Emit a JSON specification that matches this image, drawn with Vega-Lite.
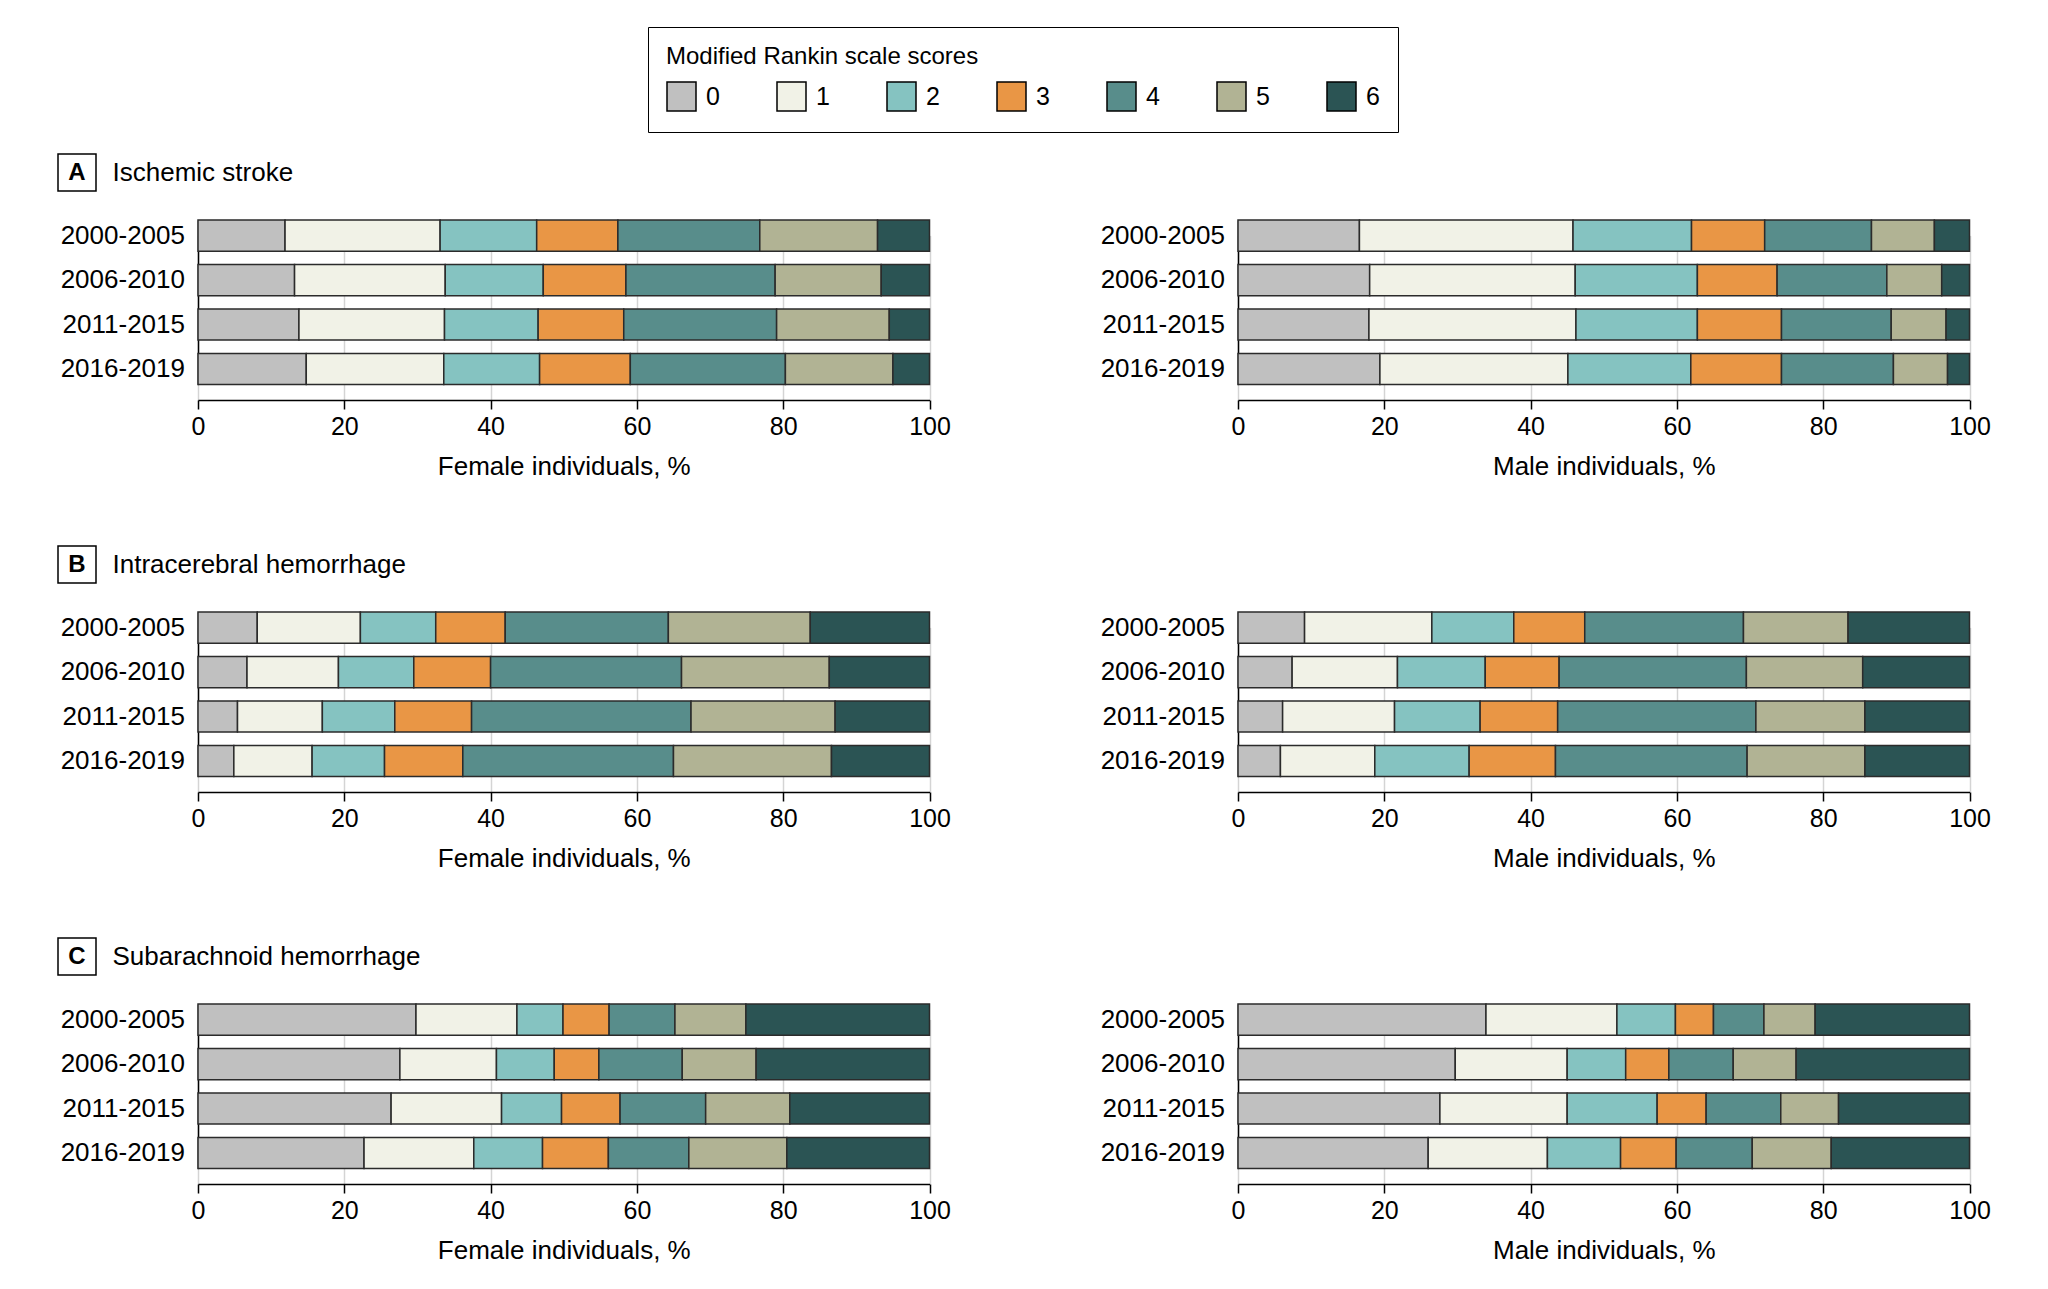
{
  "$schema": "https://vega.github.io/schema/vega-lite/v6.json",
  "autosize": {"type": "pad"},
  "padding": {"left": 57, "top": 26, "right": 10, "bottom": 10},
  "background": "white",
  "data": {"values": [
    {"panel":"A","sex":"Female","period":"2000-2005","mrs":0,"pct":11.9},{"panel":"A","sex":"Female","period":"2000-2005","mrs":1,"pct":21.2},{"panel":"A","sex":"Female","period":"2000-2005","mrs":2,"pct":13.2},{"panel":"A","sex":"Female","period":"2000-2005","mrs":3,"pct":11.1},{"panel":"A","sex":"Female","period":"2000-2005","mrs":4,"pct":19.4},{"panel":"A","sex":"Female","period":"2000-2005","mrs":5,"pct":16.1},{"panel":"A","sex":"Female","period":"2000-2005","mrs":6,"pct":7.1},
    {"panel":"A","sex":"Female","period":"2006-2010","mrs":0,"pct":13.2},{"panel":"A","sex":"Female","period":"2006-2010","mrs":1,"pct":20.6},{"panel":"A","sex":"Female","period":"2006-2010","mrs":2,"pct":13.4},{"panel":"A","sex":"Female","period":"2006-2010","mrs":3,"pct":11.3},{"panel":"A","sex":"Female","period":"2006-2010","mrs":4,"pct":20.4},{"panel":"A","sex":"Female","period":"2006-2010","mrs":5,"pct":14.5},{"panel":"A","sex":"Female","period":"2006-2010","mrs":6,"pct":6.6},
    {"panel":"A","sex":"Female","period":"2011-2015","mrs":0,"pct":13.8},{"panel":"A","sex":"Female","period":"2011-2015","mrs":1,"pct":19.9},{"panel":"A","sex":"Female","period":"2011-2015","mrs":2,"pct":12.8},{"panel":"A","sex":"Female","period":"2011-2015","mrs":3,"pct":11.7},{"panel":"A","sex":"Female","period":"2011-2015","mrs":4,"pct":20.9},{"panel":"A","sex":"Female","period":"2011-2015","mrs":5,"pct":15.4},{"panel":"A","sex":"Female","period":"2011-2015","mrs":6,"pct":5.5},
    {"panel":"A","sex":"Female","period":"2016-2019","mrs":0,"pct":14.8},{"panel":"A","sex":"Female","period":"2016-2019","mrs":1,"pct":18.8},{"panel":"A","sex":"Female","period":"2016-2019","mrs":2,"pct":13.1},{"panel":"A","sex":"Female","period":"2016-2019","mrs":3,"pct":12.4},{"panel":"A","sex":"Female","period":"2016-2019","mrs":4,"pct":21.2},{"panel":"A","sex":"Female","period":"2016-2019","mrs":5,"pct":14.7},{"panel":"A","sex":"Female","period":"2016-2019","mrs":6,"pct":5.0},
    {"panel":"A","sex":"Male","period":"2000-2005","mrs":0,"pct":16.6},{"panel":"A","sex":"Male","period":"2000-2005","mrs":1,"pct":29.2},{"panel":"A","sex":"Male","period":"2000-2005","mrs":2,"pct":16.2},{"panel":"A","sex":"Male","period":"2000-2005","mrs":3,"pct":10.0},{"panel":"A","sex":"Male","period":"2000-2005","mrs":4,"pct":14.6},{"panel":"A","sex":"Male","period":"2000-2005","mrs":5,"pct":8.6},{"panel":"A","sex":"Male","period":"2000-2005","mrs":6,"pct":4.8},
    {"panel":"A","sex":"Male","period":"2006-2010","mrs":0,"pct":18.0},{"panel":"A","sex":"Male","period":"2006-2010","mrs":1,"pct":28.1},{"panel":"A","sex":"Male","period":"2006-2010","mrs":2,"pct":16.7},{"panel":"A","sex":"Male","period":"2006-2010","mrs":3,"pct":10.9},{"panel":"A","sex":"Male","period":"2006-2010","mrs":4,"pct":15.0},{"panel":"A","sex":"Male","period":"2006-2010","mrs":5,"pct":7.5},{"panel":"A","sex":"Male","period":"2006-2010","mrs":6,"pct":3.8},
    {"panel":"A","sex":"Male","period":"2011-2015","mrs":0,"pct":17.9},{"panel":"A","sex":"Male","period":"2011-2015","mrs":1,"pct":28.3},{"panel":"A","sex":"Male","period":"2011-2015","mrs":2,"pct":16.6},{"panel":"A","sex":"Male","period":"2011-2015","mrs":3,"pct":11.5},{"panel":"A","sex":"Male","period":"2011-2015","mrs":4,"pct":15.0},{"panel":"A","sex":"Male","period":"2011-2015","mrs":5,"pct":7.5},{"panel":"A","sex":"Male","period":"2011-2015","mrs":6,"pct":3.2},
    {"panel":"A","sex":"Male","period":"2016-2019","mrs":0,"pct":19.4},{"panel":"A","sex":"Male","period":"2016-2019","mrs":1,"pct":25.7},{"panel":"A","sex":"Male","period":"2016-2019","mrs":2,"pct":16.8},{"panel":"A","sex":"Male","period":"2016-2019","mrs":3,"pct":12.4},{"panel":"A","sex":"Male","period":"2016-2019","mrs":4,"pct":15.3},{"panel":"A","sex":"Male","period":"2016-2019","mrs":5,"pct":7.4},{"panel":"A","sex":"Male","period":"2016-2019","mrs":6,"pct":3.0},
    {"panel":"B","sex":"Female","period":"2000-2005","mrs":0,"pct":8.1},{"panel":"B","sex":"Female","period":"2000-2005","mrs":1,"pct":14.1},{"panel":"B","sex":"Female","period":"2000-2005","mrs":2,"pct":10.3},{"panel":"B","sex":"Female","period":"2000-2005","mrs":3,"pct":9.5},{"panel":"B","sex":"Female","period":"2000-2005","mrs":4,"pct":22.3},{"panel":"B","sex":"Female","period":"2000-2005","mrs":5,"pct":19.4},{"panel":"B","sex":"Female","period":"2000-2005","mrs":6,"pct":16.3},
    {"panel":"B","sex":"Female","period":"2006-2010","mrs":0,"pct":6.7},{"panel":"B","sex":"Female","period":"2006-2010","mrs":1,"pct":12.5},{"panel":"B","sex":"Female","period":"2006-2010","mrs":2,"pct":10.3},{"panel":"B","sex":"Female","period":"2006-2010","mrs":3,"pct":10.5},{"panel":"B","sex":"Female","period":"2006-2010","mrs":4,"pct":26.1},{"panel":"B","sex":"Female","period":"2006-2010","mrs":5,"pct":20.2},{"panel":"B","sex":"Female","period":"2006-2010","mrs":6,"pct":13.7},
    {"panel":"B","sex":"Female","period":"2011-2015","mrs":0,"pct":5.4},{"panel":"B","sex":"Female","period":"2011-2015","mrs":1,"pct":11.6},{"panel":"B","sex":"Female","period":"2011-2015","mrs":2,"pct":9.9},{"panel":"B","sex":"Female","period":"2011-2015","mrs":3,"pct":10.5},{"panel":"B","sex":"Female","period":"2011-2015","mrs":4,"pct":30.0},{"panel":"B","sex":"Female","period":"2011-2015","mrs":5,"pct":19.7},{"panel":"B","sex":"Female","period":"2011-2015","mrs":6,"pct":12.9},
    {"panel":"B","sex":"Female","period":"2016-2019","mrs":0,"pct":4.9},{"panel":"B","sex":"Female","period":"2016-2019","mrs":1,"pct":10.7},{"panel":"B","sex":"Female","period":"2016-2019","mrs":2,"pct":9.9},{"panel":"B","sex":"Female","period":"2016-2019","mrs":3,"pct":10.7},{"panel":"B","sex":"Female","period":"2016-2019","mrs":4,"pct":28.8},{"panel":"B","sex":"Female","period":"2016-2019","mrs":5,"pct":21.6},{"panel":"B","sex":"Female","period":"2016-2019","mrs":6,"pct":13.4},
    {"panel":"B","sex":"Male","period":"2000-2005","mrs":0,"pct":9.1},{"panel":"B","sex":"Male","period":"2000-2005","mrs":1,"pct":17.4},{"panel":"B","sex":"Male","period":"2000-2005","mrs":2,"pct":11.2},{"panel":"B","sex":"Male","period":"2000-2005","mrs":3,"pct":9.7},{"panel":"B","sex":"Male","period":"2000-2005","mrs":4,"pct":21.7},{"panel":"B","sex":"Male","period":"2000-2005","mrs":5,"pct":14.3},{"panel":"B","sex":"Male","period":"2000-2005","mrs":6,"pct":16.6},
    {"panel":"B","sex":"Male","period":"2006-2010","mrs":0,"pct":7.4},{"panel":"B","sex":"Male","period":"2006-2010","mrs":1,"pct":14.4},{"panel":"B","sex":"Male","period":"2006-2010","mrs":2,"pct":12.0},{"panel":"B","sex":"Male","period":"2006-2010","mrs":3,"pct":10.1},{"panel":"B","sex":"Male","period":"2006-2010","mrs":4,"pct":25.6},{"panel":"B","sex":"Male","period":"2006-2010","mrs":5,"pct":15.9},{"panel":"B","sex":"Male","period":"2006-2010","mrs":6,"pct":14.6},
    {"panel":"B","sex":"Male","period":"2011-2015","mrs":0,"pct":6.1},{"panel":"B","sex":"Male","period":"2011-2015","mrs":1,"pct":15.3},{"panel":"B","sex":"Male","period":"2011-2015","mrs":2,"pct":11.7},{"panel":"B","sex":"Male","period":"2011-2015","mrs":3,"pct":10.6},{"panel":"B","sex":"Male","period":"2011-2015","mrs":4,"pct":27.1},{"panel":"B","sex":"Male","period":"2011-2015","mrs":5,"pct":14.9},{"panel":"B","sex":"Male","period":"2011-2015","mrs":6,"pct":14.3},
    {"panel":"B","sex":"Male","period":"2016-2019","mrs":0,"pct":5.8},{"panel":"B","sex":"Male","period":"2016-2019","mrs":1,"pct":12.9},{"panel":"B","sex":"Male","period":"2016-2019","mrs":2,"pct":12.9},{"panel":"B","sex":"Male","period":"2016-2019","mrs":3,"pct":11.8},{"panel":"B","sex":"Male","period":"2016-2019","mrs":4,"pct":26.2},{"panel":"B","sex":"Male","period":"2016-2019","mrs":5,"pct":16.1},{"panel":"B","sex":"Male","period":"2016-2019","mrs":6,"pct":14.3},
    {"panel":"C","sex":"Female","period":"2000-2005","mrs":0,"pct":29.8},{"panel":"C","sex":"Female","period":"2000-2005","mrs":1,"pct":13.8},{"panel":"C","sex":"Female","period":"2000-2005","mrs":2,"pct":6.3},{"panel":"C","sex":"Female","period":"2000-2005","mrs":3,"pct":6.3},{"panel":"C","sex":"Female","period":"2000-2005","mrs":4,"pct":9.0},{"panel":"C","sex":"Female","period":"2000-2005","mrs":5,"pct":9.7},{"panel":"C","sex":"Female","period":"2000-2005","mrs":6,"pct":25.1},
    {"panel":"C","sex":"Female","period":"2006-2010","mrs":0,"pct":27.6},{"panel":"C","sex":"Female","period":"2006-2010","mrs":1,"pct":13.2},{"panel":"C","sex":"Female","period":"2006-2010","mrs":2,"pct":7.9},{"panel":"C","sex":"Female","period":"2006-2010","mrs":3,"pct":6.1},{"panel":"C","sex":"Female","period":"2006-2010","mrs":4,"pct":11.4},{"panel":"C","sex":"Female","period":"2006-2010","mrs":5,"pct":10.1},{"panel":"C","sex":"Female","period":"2006-2010","mrs":6,"pct":23.7},
    {"panel":"C","sex":"Female","period":"2011-2015","mrs":0,"pct":26.4},{"panel":"C","sex":"Female","period":"2011-2015","mrs":1,"pct":15.1},{"panel":"C","sex":"Female","period":"2011-2015","mrs":2,"pct":8.2},{"panel":"C","sex":"Female","period":"2011-2015","mrs":3,"pct":8.0},{"panel":"C","sex":"Female","period":"2011-2015","mrs":4,"pct":11.7},{"panel":"C","sex":"Female","period":"2011-2015","mrs":5,"pct":11.5},{"panel":"C","sex":"Female","period":"2011-2015","mrs":6,"pct":19.1},
    {"panel":"C","sex":"Female","period":"2016-2019","mrs":0,"pct":22.7},{"panel":"C","sex":"Female","period":"2016-2019","mrs":1,"pct":15.0},{"panel":"C","sex":"Female","period":"2016-2019","mrs":2,"pct":9.4},{"panel":"C","sex":"Female","period":"2016-2019","mrs":3,"pct":9.0},{"panel":"C","sex":"Female","period":"2016-2019","mrs":4,"pct":11.0},{"panel":"C","sex":"Female","period":"2016-2019","mrs":5,"pct":13.4},{"panel":"C","sex":"Female","period":"2016-2019","mrs":6,"pct":19.5},
    {"panel":"C","sex":"Male","period":"2000-2005","mrs":0,"pct":33.9},{"panel":"C","sex":"Male","period":"2000-2005","mrs":1,"pct":17.9},{"panel":"C","sex":"Male","period":"2000-2005","mrs":2,"pct":8.0},{"panel":"C","sex":"Male","period":"2000-2005","mrs":3,"pct":5.2},{"panel":"C","sex":"Male","period":"2000-2005","mrs":4,"pct":6.9},{"panel":"C","sex":"Male","period":"2000-2005","mrs":5,"pct":7.0},{"panel":"C","sex":"Male","period":"2000-2005","mrs":6,"pct":21.1},
    {"panel":"C","sex":"Male","period":"2006-2010","mrs":0,"pct":29.7},{"panel":"C","sex":"Male","period":"2006-2010","mrs":1,"pct":15.3},{"panel":"C","sex":"Male","period":"2006-2010","mrs":2,"pct":8.0},{"panel":"C","sex":"Male","period":"2006-2010","mrs":3,"pct":5.9},{"panel":"C","sex":"Male","period":"2006-2010","mrs":4,"pct":8.8},{"panel":"C","sex":"Male","period":"2006-2010","mrs":5,"pct":8.6},{"panel":"C","sex":"Male","period":"2006-2010","mrs":6,"pct":23.7},
    {"panel":"C","sex":"Male","period":"2011-2015","mrs":0,"pct":27.6},{"panel":"C","sex":"Male","period":"2011-2015","mrs":1,"pct":17.4},{"panel":"C","sex":"Male","period":"2011-2015","mrs":2,"pct":12.3},{"panel":"C","sex":"Male","period":"2011-2015","mrs":3,"pct":6.7},{"panel":"C","sex":"Male","period":"2011-2015","mrs":4,"pct":10.2},{"panel":"C","sex":"Male","period":"2011-2015","mrs":5,"pct":7.9},{"panel":"C","sex":"Male","period":"2011-2015","mrs":6,"pct":17.9},
    {"panel":"C","sex":"Male","period":"2016-2019","mrs":0,"pct":26.0},{"panel":"C","sex":"Male","period":"2016-2019","mrs":1,"pct":16.3},{"panel":"C","sex":"Male","period":"2016-2019","mrs":2,"pct":10.0},{"panel":"C","sex":"Male","period":"2016-2019","mrs":3,"pct":7.6},{"panel":"C","sex":"Male","period":"2016-2019","mrs":4,"pct":10.4},{"panel":"C","sex":"Male","period":"2016-2019","mrs":5,"pct":10.8},{"panel":"C","sex":"Male","period":"2016-2019","mrs":6,"pct":18.9}
  ]},
  "spacing": 66,
  "vconcat": [
    {"spacing": 27, "vconcat": [
      {"spacing": 15, "hconcat": [
        {"width": 38, "height": 37, "view": {"stroke": "black", "strokeWidth": 1.5}, "data": {"values": [{"letter": "A"}]}, "mark": {"type": "text", "fontSize": 24, "fontWeight": "bold", "baseline": "middle"}, "encoding": {"text": {"field": "letter"}}},
        {"width": 1, "height": 37, "data": {"values": [{"name": "Ischemic stroke"}]}, "mark": {"type": "text", "fontSize": 26, "align": "left", "baseline": "middle"}, "encoding": {"text": {"field": "name"}}}
      ]},
      {"spacing": 147, "hconcat": [
        {"spacing": 6, "hconcat": [
          {"width": 127, "height": 180, "transform": [{"filter": "datum.panel === 'A' && datum.sex === 'Female' && datum.mrs === 0"}], "mark": {"type": "text", "align": "right", "baseline": "middle", "fontSize": 26},
           "encoding": {"y": {"field": "period", "type": "nominal", "axis": null, "scale": {"type": "band", "range": [0, 164.6], "paddingInner": 0.3, "paddingOuter": 0}}, "x": {"value": "width"}, "text": {"field": "period"}}},
          {"width": 731.5, "height": 180, "transform": [{"filter": "datum.panel === 'A' && datum.sex === 'Female'"}], "mark": "bar",
           "encoding": {"y": {"field": "period", "type": "nominal", "title": null, "axis": {"labels": false}, "scale": {"range": [0, 164.6], "paddingInner": 0.3, "paddingOuter": 0}},
             "x": {"field": "pct", "type": "quantitative", "stack": "zero", "scale": {"domain": [0, 100], "nice": false}, "axis": {"values": [0, 20, 40, 60, 80, 100], "title": "Female individuals, %"}},
             "color": {"field": "mrs", "type": "nominal", "title": "Modified Rankin scale scores", "scale": {"domain": [0, 1, 2, 3, 4, 5, 6], "range": ["#c0c0c0", "#f1f2e7", "#85c3c1", "#e99645", "#588d8b", "#b1b394", "#2b5454"]}},
             "order": {"field": "mrs", "type": "quantitative"}}}
        ]},
        {"spacing": 6, "hconcat": [
          {"width": 127, "height": 180, "transform": [{"filter": "datum.panel === 'A' && datum.sex === 'Male' && datum.mrs === 0"}], "mark": {"type": "text", "align": "right", "baseline": "middle", "fontSize": 26},
           "encoding": {"y": {"field": "period", "type": "nominal", "axis": null, "scale": {"type": "band", "range": [0, 164.6], "paddingInner": 0.3, "paddingOuter": 0}}, "x": {"value": "width"}, "text": {"field": "period"}}},
          {"width": 731.5, "height": 180, "transform": [{"filter": "datum.panel === 'A' && datum.sex === 'Male'"}], "mark": "bar",
           "encoding": {"y": {"field": "period", "type": "nominal", "title": null, "axis": {"labels": false}, "scale": {"range": [0, 164.6], "paddingInner": 0.3, "paddingOuter": 0}},
             "x": {"field": "pct", "type": "quantitative", "stack": "zero", "scale": {"domain": [0, 100], "nice": false}, "axis": {"values": [0, 20, 40, 60, 80, 100], "title": "Male individuals, %"}},
             "color": {"field": "mrs", "type": "nominal", "title": "Modified Rankin scale scores", "scale": {"domain": [0, 1, 2, 3, 4, 5, 6], "range": ["#c0c0c0", "#f1f2e7", "#85c3c1", "#e99645", "#588d8b", "#b1b394", "#2b5454"]}},
             "order": {"field": "mrs", "type": "quantitative"}}}
        ]}
      ]}
    ]},
    {"spacing": 27, "vconcat": [
      {"spacing": 15, "hconcat": [
        {"width": 38, "height": 37, "view": {"stroke": "black", "strokeWidth": 1.5}, "data": {"values": [{"letter": "B"}]}, "mark": {"type": "text", "fontSize": 24, "fontWeight": "bold", "baseline": "middle"}, "encoding": {"text": {"field": "letter"}}},
        {"width": 1, "height": 37, "data": {"values": [{"name": "Intracerebral hemorrhage"}]}, "mark": {"type": "text", "fontSize": 26, "align": "left", "baseline": "middle"}, "encoding": {"text": {"field": "name"}}}
      ]},
      {"spacing": 147, "hconcat": [
        {"spacing": 6, "hconcat": [
          {"width": 127, "height": 180, "transform": [{"filter": "datum.panel === 'B' && datum.sex === 'Female' && datum.mrs === 0"}], "mark": {"type": "text", "align": "right", "baseline": "middle", "fontSize": 26},
           "encoding": {"y": {"field": "period", "type": "nominal", "axis": null, "scale": {"type": "band", "range": [0, 164.6], "paddingInner": 0.3, "paddingOuter": 0}}, "x": {"value": "width"}, "text": {"field": "period"}}},
          {"width": 731.5, "height": 180, "transform": [{"filter": "datum.panel === 'B' && datum.sex === 'Female'"}], "mark": "bar",
           "encoding": {"y": {"field": "period", "type": "nominal", "title": null, "axis": {"labels": false}, "scale": {"range": [0, 164.6], "paddingInner": 0.3, "paddingOuter": 0}},
             "x": {"field": "pct", "type": "quantitative", "stack": "zero", "scale": {"domain": [0, 100], "nice": false}, "axis": {"values": [0, 20, 40, 60, 80, 100], "title": "Female individuals, %"}},
             "color": {"field": "mrs", "type": "nominal", "title": "Modified Rankin scale scores", "scale": {"domain": [0, 1, 2, 3, 4, 5, 6], "range": ["#c0c0c0", "#f1f2e7", "#85c3c1", "#e99645", "#588d8b", "#b1b394", "#2b5454"]}},
             "order": {"field": "mrs", "type": "quantitative"}}}
        ]},
        {"spacing": 6, "hconcat": [
          {"width": 127, "height": 180, "transform": [{"filter": "datum.panel === 'B' && datum.sex === 'Male' && datum.mrs === 0"}], "mark": {"type": "text", "align": "right", "baseline": "middle", "fontSize": 26},
           "encoding": {"y": {"field": "period", "type": "nominal", "axis": null, "scale": {"type": "band", "range": [0, 164.6], "paddingInner": 0.3, "paddingOuter": 0}}, "x": {"value": "width"}, "text": {"field": "period"}}},
          {"width": 731.5, "height": 180, "transform": [{"filter": "datum.panel === 'B' && datum.sex === 'Male'"}], "mark": "bar",
           "encoding": {"y": {"field": "period", "type": "nominal", "title": null, "axis": {"labels": false}, "scale": {"range": [0, 164.6], "paddingInner": 0.3, "paddingOuter": 0}},
             "x": {"field": "pct", "type": "quantitative", "stack": "zero", "scale": {"domain": [0, 100], "nice": false}, "axis": {"values": [0, 20, 40, 60, 80, 100], "title": "Male individuals, %"}},
             "color": {"field": "mrs", "type": "nominal", "title": "Modified Rankin scale scores", "scale": {"domain": [0, 1, 2, 3, 4, 5, 6], "range": ["#c0c0c0", "#f1f2e7", "#85c3c1", "#e99645", "#588d8b", "#b1b394", "#2b5454"]}},
             "order": {"field": "mrs", "type": "quantitative"}}}
        ]}
      ]}
    ]},
    {"spacing": 27, "vconcat": [
      {"spacing": 15, "hconcat": [
        {"width": 38, "height": 37, "view": {"stroke": "black", "strokeWidth": 1.5}, "data": {"values": [{"letter": "C"}]}, "mark": {"type": "text", "fontSize": 24, "fontWeight": "bold", "baseline": "middle"}, "encoding": {"text": {"field": "letter"}}},
        {"width": 1, "height": 37, "data": {"values": [{"name": "Subarachnoid hemorrhage"}]}, "mark": {"type": "text", "fontSize": 26, "align": "left", "baseline": "middle"}, "encoding": {"text": {"field": "name"}}}
      ]},
      {"spacing": 147, "hconcat": [
        {"spacing": 6, "hconcat": [
          {"width": 127, "height": 180, "transform": [{"filter": "datum.panel === 'C' && datum.sex === 'Female' && datum.mrs === 0"}], "mark": {"type": "text", "align": "right", "baseline": "middle", "fontSize": 26},
           "encoding": {"y": {"field": "period", "type": "nominal", "axis": null, "scale": {"type": "band", "range": [0, 164.6], "paddingInner": 0.3, "paddingOuter": 0}}, "x": {"value": "width"}, "text": {"field": "period"}}},
          {"width": 731.5, "height": 180, "transform": [{"filter": "datum.panel === 'C' && datum.sex === 'Female'"}], "mark": "bar",
           "encoding": {"y": {"field": "period", "type": "nominal", "title": null, "axis": {"labels": false}, "scale": {"range": [0, 164.6], "paddingInner": 0.3, "paddingOuter": 0}},
             "x": {"field": "pct", "type": "quantitative", "stack": "zero", "scale": {"domain": [0, 100], "nice": false}, "axis": {"values": [0, 20, 40, 60, 80, 100], "title": "Female individuals, %"}},
             "color": {"field": "mrs", "type": "nominal", "title": "Modified Rankin scale scores", "scale": {"domain": [0, 1, 2, 3, 4, 5, 6], "range": ["#c0c0c0", "#f1f2e7", "#85c3c1", "#e99645", "#588d8b", "#b1b394", "#2b5454"]}},
             "order": {"field": "mrs", "type": "quantitative"}}}
        ]},
        {"spacing": 6, "hconcat": [
          {"width": 127, "height": 180, "transform": [{"filter": "datum.panel === 'C' && datum.sex === 'Male' && datum.mrs === 0"}], "mark": {"type": "text", "align": "right", "baseline": "middle", "fontSize": 26},
           "encoding": {"y": {"field": "period", "type": "nominal", "axis": null, "scale": {"type": "band", "range": [0, 164.6], "paddingInner": 0.3, "paddingOuter": 0}}, "x": {"value": "width"}, "text": {"field": "period"}}},
          {"width": 731.5, "height": 180, "transform": [{"filter": "datum.panel === 'C' && datum.sex === 'Male'"}], "mark": "bar",
           "encoding": {"y": {"field": "period", "type": "nominal", "title": null, "axis": {"labels": false}, "scale": {"range": [0, 164.6], "paddingInner": 0.3, "paddingOuter": 0}},
             "x": {"field": "pct", "type": "quantitative", "stack": "zero", "scale": {"domain": [0, 100], "nice": false}, "axis": {"values": [0, 20, 40, 60, 80, 100], "title": "Male individuals, %"}},
             "color": {"field": "mrs", "type": "nominal", "title": "Modified Rankin scale scores", "scale": {"domain": [0, 1, 2, 3, 4, 5, 6], "range": ["#c0c0c0", "#f1f2e7", "#85c3c1", "#e99645", "#588d8b", "#b1b394", "#2b5454"]}},
             "order": {"field": "mrs", "type": "quantitative"}}}
        ]}
      ]}
    ]}
  ],
  "config": {
    "font": "Liberation Sans",
    "view": {"stroke": null},
    "bar": {"stroke": "#2b2b2b", "strokeWidth": 1.5},
    "text": {"color": "black", "font": "Liberation Sans"},
    "axis": {"labelFont": "Liberation Sans", "titleFont": "Liberation Sans", "labelColor": "black", "titleColor": "black", "titleFontWeight": "normal", "titleFontSize": 26},
    "axisX": {"labelFontSize": 25, "domainColor": "black", "domainWidth": 1.5, "tickColor": "black", "tickWidth": 1.5, "tickSize": 9, "grid": true, "gridColor": "#d4d4d4", "gridWidth": 1.5, "labelPadding": 5, "titlePadding": 14, "labelFlush": false},
    "axisY": {"domainColor": "black", "domainWidth": 1.5, "ticks": false, "grid": false},
    "legend": {"orient": "none", "legendX": 590, "legendY": -127, "direction": "horizontal", "strokeColor": "black", "padding": 18, "fillColor": "white",
      "titleFont": "Liberation Sans", "titleFontSize": 24, "titleFontWeight": "normal", "titleColor": "black", "titlePadding": 12, "titleLimit": 800,
      "labelFont": "Liberation Sans", "labelFontSize": 25, "labelColor": "black", "labelOffset": 9,
      "symbolType": "square", "symbolSize": 841, "symbolStrokeColor": "black", "symbolStrokeWidth": 1.5, "symbolOpacity": 1, "columnPadding": 54}
  }
}
